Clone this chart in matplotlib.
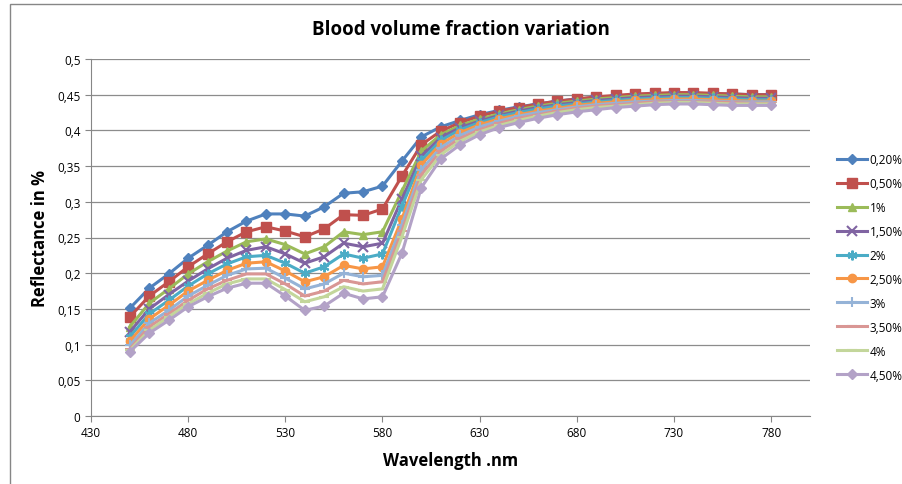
import numpy as np
import matplotlib.pyplot as plt
from matplotlib.patches import Rectangle

wavelength = list(range(450, 781, 10))

labels = ['0,20%', '0,50%', '1%', '1,50%', '2%', '2,50%', '3%', '3,50%', '4%', '4,50%']

bvf_020 = [0.151, 0.179, 0.199, 0.221, 0.239, 0.258, 0.273, 0.283, 0.283, 0.280,
           0.293, 0.312, 0.314, 0.322, 0.357,
           0.391, 0.405, 0.414, 0.422, 0.428, 0.433, 0.437, 0.441, 0.444, 0.446,
           0.448, 0.450, 0.451, 0.452, 0.452, 0.451, 0.451, 0.450, 0.450]
bvf_050 = [0.139, 0.168, 0.188, 0.209, 0.227, 0.244, 0.258, 0.265, 0.259, 0.251,
           0.262, 0.282, 0.281, 0.290, 0.336,
           0.380, 0.399, 0.411, 0.420, 0.427, 0.432, 0.437, 0.441, 0.444, 0.447,
           0.449, 0.451, 0.452, 0.453, 0.453, 0.452, 0.451, 0.450, 0.450]
bvf_1 = [0.125, 0.158, 0.178, 0.199, 0.216, 0.231, 0.244, 0.248, 0.240, 0.227,
         0.237, 0.258, 0.254, 0.258, 0.315,
         0.371, 0.394, 0.407, 0.416, 0.423, 0.429, 0.434, 0.438, 0.441, 0.444,
         0.446, 0.448, 0.449, 0.450, 0.450, 0.449, 0.448, 0.447, 0.447]
bvf_150 = [0.118, 0.150, 0.170, 0.189, 0.206, 0.221, 0.232, 0.237, 0.227, 0.214,
           0.223, 0.242, 0.237, 0.242, 0.304,
           0.364, 0.390, 0.404, 0.413, 0.421, 0.427, 0.432, 0.436, 0.439, 0.442,
           0.444, 0.446, 0.447, 0.448, 0.448, 0.447, 0.446, 0.445, 0.445]
bvf_2 = [0.111, 0.143, 0.162, 0.182, 0.199, 0.213, 0.223, 0.225, 0.214, 0.200,
         0.209, 0.227, 0.221, 0.227, 0.294,
         0.358, 0.386, 0.401, 0.411, 0.419, 0.425, 0.430, 0.434, 0.437, 0.440,
         0.442, 0.444, 0.445, 0.446, 0.446, 0.445, 0.444, 0.443, 0.443]
bvf_250 = [0.105, 0.136, 0.155, 0.175, 0.190, 0.204, 0.214, 0.216, 0.203, 0.188,
           0.195, 0.211, 0.206, 0.209, 0.276,
           0.352, 0.381, 0.397, 0.408, 0.416, 0.422, 0.427, 0.431, 0.435, 0.438,
           0.440, 0.442, 0.443, 0.444, 0.444, 0.443, 0.442, 0.441, 0.441]
bvf_3 = [0.099, 0.130, 0.148, 0.168, 0.183, 0.197, 0.206, 0.207, 0.193, 0.178,
         0.185, 0.200, 0.195, 0.197, 0.268,
         0.345, 0.376, 0.393, 0.405, 0.413, 0.420, 0.425, 0.429, 0.433, 0.436,
         0.438, 0.440, 0.441, 0.442, 0.442, 0.441, 0.440, 0.440, 0.440]
bvf_350 = [0.094, 0.125, 0.143, 0.162, 0.178, 0.190, 0.199, 0.199, 0.185, 0.168,
           0.175, 0.190, 0.185, 0.188, 0.259,
           0.338, 0.371, 0.389, 0.401, 0.410, 0.417, 0.422, 0.427, 0.431, 0.434,
           0.436, 0.438, 0.440, 0.440, 0.440, 0.440, 0.439, 0.438, 0.438]
bvf_4 = [0.092, 0.120, 0.139, 0.157, 0.172, 0.185, 0.192, 0.192, 0.177, 0.160,
         0.167, 0.181, 0.175, 0.178, 0.251,
         0.331, 0.366, 0.385, 0.398, 0.407, 0.414, 0.420, 0.425, 0.429, 0.432,
         0.434, 0.436, 0.438, 0.439, 0.439, 0.438, 0.437, 0.437, 0.437]
bvf_450 = [0.090, 0.116, 0.134, 0.153, 0.167, 0.179, 0.186, 0.186, 0.168, 0.148,
           0.154, 0.172, 0.164, 0.167, 0.228,
           0.320, 0.360, 0.380, 0.394, 0.404, 0.411, 0.417, 0.422, 0.426, 0.429,
           0.432, 0.434, 0.436, 0.437, 0.437, 0.436, 0.435, 0.435, 0.435]

series = [bvf_020, bvf_050, bvf_1, bvf_150, bvf_2, bvf_250, bvf_3, bvf_350, bvf_4, bvf_450]
colors = ['#4F81BD', '#C0504D', '#9BBB59', '#8064A2', '#4BACC6',
          '#F79646', '#95B3D7', '#D99694', '#C3D69B', '#B3A2C7']
markers = ['D', 's', '^', 'x', (6, 2, 0), 'o', '+', '_', '_', 'D']
msizes = [5, 7, 6, 7, 7, 6, 7, 7, 7, 5]

plt.rcParams['font.family'] = ['Open Sans', 'DejaVu Sans']

fig = plt.figure(figsize=(9.03, 4.85), dpi=100)
# chart area border (only left and top edges show in the crop)
fig.patches.append(Rectangle((10 / 903, -0.1), 1.2, (480 / 485) + 0.1,
                             transform=fig.transFigure, fill=False,
                             edgecolor='#868686', lw=1))
ax = fig.add_axes([91 / 903, 1 - 417 / 485, (810 - 91) / 903, (417 - 60) / 485])

for vals, lab, c, m, ms in zip(series, labels, colors, markers, msizes):
    mew = 1.5 if m in ('x', '+', '_') or isinstance(m, tuple) else 1
    ax.plot(wavelength, vals, color=c, lw=2.2, marker=m, markersize=ms,
            markeredgewidth=mew, markeredgecolor=c, label=lab)

ax.set_xlim(430, 800)
ax.set_ylim(0, 0.5)
ax.set_xticks(range(430, 781, 50))
ax.set_yticks(np.arange(0, 0.51, 0.05))
ax.set_yticklabels(['0', '0,05', '0,1', '0,15', '0,2', '0,25', '0,3', '0,35', '0,4', '0,45', '0,5'])
ax.grid(axis='y', color='#8c8c8c', lw=0.9)
ax.set_axisbelow(True)
ax.tick_params(axis='both', colors='#868686', labelcolor='black', labelsize=8.5, length=4, direction='out')
for s in ('top', 'right'):
    ax.spines[s].set_visible(False)
for s in ('left', 'bottom'):
    ax.spines[s].set_color('#868686')

ax.set_xlabel('Wavelength .nm', fontsize=12, fontweight='bold', labelpad=8)
ax.set_ylabel('Reflectance in %', fontsize=12, fontweight='bold', labelpad=6)
fig.text(0.51, 1 - 30 / 485, 'Blood volume fraction variation', fontsize=13.5,
         fontweight='bold', ha='center', va='center')

leg = fig.legend(loc='upper left', bbox_to_anchor=(832 / 903, 1 - 149 / 485),
                 frameon=False, fontsize=8.5, handlelength=2.6, labelspacing=0.93,
                 handletextpad=0.2, borderaxespad=0)

fig.savefig('out.png', dpi=100)
